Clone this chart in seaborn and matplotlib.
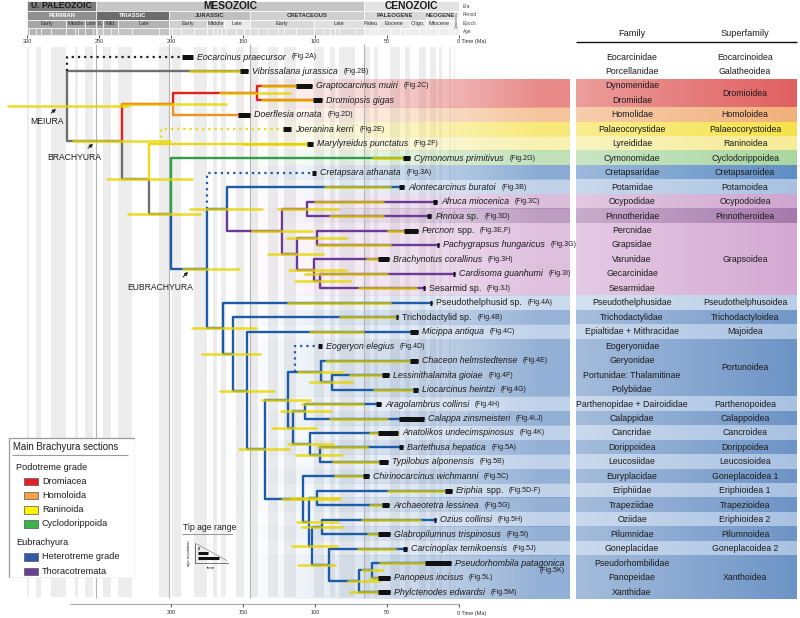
"""
Time-calibrated phylogeny of fossil and living crabs (Brachyura),
with geological timescale, node age bars, tip age ranges and a
family / superfamily table on the right.

Output : out.png (800 x 618 px)
"""

# ============================================================================
# Import Required Libraries
# ============================================================================

import numpy as np
import pandas as pd

import matplotlib
matplotlib.use("Agg")
import matplotlib.pyplot as plt
from matplotlib.patches import Rectangle
from matplotlib.colors import to_rgb

import seaborn as sns


# ============================================================================
# Data - tips (top to bottom)
# ============================================================================

tip_italic = [
    "Eocarcinus praecursor", "Vibrissalana jurassica", "Graptocarcinus muiri",
    "Dromiopsis gigas", "Doerflesia ornata", "Joeranina kerri",
    "Marylyreidus punctatus", "Cymonomus primitivus", "Cretapsara athanata",
    "Alontecarcinus buratoi", "Afruca miocenica", "Pinnixa", "Percnon",
    "Pachygrapsus hungaricus", "Brachynotus corallinus", "Cardisoma guanhumi",
    "", "", "", "Micippa antiqua", "Eogeryon elegius", "Chaceon helmstedtense",
    "Lessinithalamita gioiae", "Liocarcinus heintzi", "Aragolambrus collinsi",
    "Calappa zinsmeisteri", "Anatolikos undecimspinosus", "Bartethusa hepatica",
    "Typilobus alponensis", "Chirinocarcinus wichmanni", "Eriphia",
    "Archaeotetra lessinea", "Ozius collinsi", "Glabropilumnus trispinosus",
    "Carcinoplax temikoensis", "Pseudorhombila patagonica", "Panopeus incisus",
    "Phylctenodes edwardsi",
]

tip_roman = [
    "", "", "", "", "", "", "", "", "", "", "", " sp.", " spp.", "", "", "",
    "Sesarmid sp.", "Pseudothelphusid sp.", "Trichodactylid sp.", "", "", "",
    "", "", "", "", "", "", "", "", " spp.", "", "", "", "", "", "", "",
]

tip_figs = [
    "(Fig.2A)", "(Fig.2B)", "(Fig.2C)", "", "(Fig.2D)", "(Fig.2E)", "(Fig.2F)",
    "(Fig.2G)", "(Fig.3A)", "(Fig.3B)", "(Fig.3C)", "(Fig.3D)", "(Fig.3E,F)",
    "(Fig.3G)", "(Fig.3H)", "(Fig.3I)", "(Fig.3J)", "(Fig.4A)", "(Fig.4B)",
    "(Fig.4C)", "(Fig.4D)", "(Fig.4E)", "(Fig.4F)", "(Fig.4G)", "(Fig.4H)",
    "(Fig.4I,J)", "(Fig.4K)", "(Fig.5A)", "(Fig.5B)", "(Fig.5C)", "(Fig.5D-F)",
    "(Fig.5G)", "(Fig.5H)", "(Fig.5I)", "(Fig.5J)", "(Fig.5K)", "(Fig.5L)",
    "(Fig.5M)",
]

fig_on_next_line = ["Pseudorhombila patagonica"]

tip_parent = [
    None, "root", "dromi", "dromi", "podo", None, "core", "cyclo", None, "F",
    "TA", "TA", "TC", "TC", "TD", "TE", "TE", "G", "H", "I", None, "M", "Mb",
    "Mb", "O", "O", "P", "Pb", "Pb", "L", "R", "R", "S", "S", "U", "W", "W",
    "X",
]

tip_clade = (
    ["outgroup", "stem", "dromiacea", "dromiacea", "homoloida", "raninoida",
     "raninoida", "cyclodorippoida", "hetero", "hetero"]
    + ["thoraco"] * 7
    + ["hetero"] * 21
)

# tip age range (Ma)
tip_bar_old = [
    192.4, 152.1, 113.2, 101.4, 153.5, 122.2, 105.6, 38.9, 102.1, 41.7,
    18.1, 22.2, 38.2, 15.3, 56.3, 4.2, 25.0, 20.1, 43.8, 34.0,
    97.9, 34.0, 53.5, 31.9, 57.6, 41.7, 56.3, 41.7, 55.6, 66.7,
    9.7, 53.5, 17.4, 56.3, 38.9, 23.6, 56.3, 56.3,
]
tip_bar_young = [
    184.7, 146.5, 102.1, 95.1, 145.1, 116.7, 101.4, 34.0, 99.3, 38.2,
    15.3, 19.4, 28.5, 13.9, 48.6, 2.8, 23.6, 18.8, 42.4, 28.5,
    95.1, 28.5, 48.6, 28.5, 54.2, 24.3, 42.4, 38.9, 49.3, 62.5,
    4.9, 48.6, 16.0, 47.9, 36.1, 5.6, 47.9, 47.9,
]

# highlighted part of the terminal branches (Ma)
tip_ovl_old = [
    np.nan, 186.8, 136.8, 136.8, np.nan, np.nan, 150.0, 59.7, np.nan, 93.0,
    100.0, 89.6, 49.3, 98.6, 63.9, 107.0, 69.4, 118.8, 82.6, 103.5,
    np.nan, 92.4, 75.7, 59.0, 109.0, 89.6, 61.8, 97.9, 87.5, 86.1,
    49.3, 61.8, 67.4, 63.2, 70.1, 54.9, 61.8, 75.7,
]
tip_ovl_young = [
    np.nan, 152.1, 113.2, 101.4, np.nan, np.nan, 105.6, 38.9, np.nan, 47.9,
    52.8, 52.8, 38.2, 47.9, 56.3, 50.0, 29.9, 47.9, 43.1, 66.7,
    np.nan, 34.0, 53.5, 31.9, 66.7, 50.0, 42.4, 63.9, 55.6, 66.7,
    9.7, 53.5, 27.1, 56.3, 44.4, 23.6, 56.3, 56.3,
]

# uncertain placements: tip -> (attachment age, attached to)
dotted_attach = {
    0: (272.2, "t1"),
    5: (207.0, "t6"),
    8: (175.0, "F"),
    20: (113.9, "M"),
}


# ============================================================================
# Data - internal nodes
# ============================================================================

node_ids = [
    "root", "brach", "podo", "dromi", "core", "cyclo", "eubr", "F", "thor",
    "TA", "TB", "TC", "TD", "TE", "G", "H", "I", "J", "K", "M", "Mb", "N",
    "O", "P", "Pb", "L", "Q", "R", "V", "S", "U", "X", "W",
]
node_parent = [
    None, "root", "brach", "podo", "brach", "core", "cyclo", "eubr", "F",
    "thor", "thor", "TB", "TB", "TD", "eubr", "G", "H", "I", "J", "K", "M",
    "K", "N", "N", "P", "J", "L", "Q", "Q", "V", "V", "U", "X",
]
node_age = [
    272.2, 234.0, 198.6, 140.3, 215.3, 200.0, 175.0, 161.1, 122.9,
    105.6, 112.5, 98.6, 100.7, 96.5, 163.9, 156.9, 147.2, 134.7, 118.8,
    95.8, 88.2, 115.3, 106.9, 103.5, 96.5, 108.3, 104.2, 98.6, 102.1,
    95.1, 90.3, 69.4, 60.4,
]
node_hpd_old = [
    313.0, 268.0, 235.0, 166.0, 244.4, 229.9, 191.7, 186.8, 143.8,
    125.7, 132.6, 119.4, 118.0, 113.9, 185.4, 178.5, 166.0, 152.8, 136.8,
    111.8, 103.5, 129.9, 123.6, 118.8, 113.2, 122.9, 112.5, 117.0, 116.0,
    109.0, 111.8, 77.0, 67.4,
]
node_hpd_young = [
    230.0, 200.7, 162.0, 117.4, 185.4, 179.9, 152.8, 136.8, 102.1,
    84.0, 94.4, 77.8, 78.5, 75.7, 141.0, 138.2, 128.5, 118.0, 103.5,
    80.6, 74.3, 99.3, 88.9, 87.5, 81.3, 83.3, 84.0, 82.6, 85.0,
    81.3, 86.1, 54.9, 52.8,
]
node_clade = (
    ["stem", "stem", "dromiacea", "dromiacea", "stem", "stem", "hetero",
     "hetero"]
    + ["thoraco"] * 6
    + ["hetero"] * 19
)

clade_colors = {
    "outgroup": "#222222",
    "stem": "#6f6f6f",
    "dromiacea": "#e2231a",
    "homoloida": "#f0901e",
    "raninoida": "#e9da14",
    "cyclodorippoida": "#2f9e44",
    "hetero": "#1d5ba8",
    "thoraco": "#6a3b96",
}


# ============================================================================
# Data - family / superfamily table
# ============================================================================

families = [
    "Eocarcinidae", "Porcellanidae", "Dynomenidae", "Dromiidae", "Homolidae",
    "Palaeocorystidae", "Lyreididae", "Cymonomidae", "Cretapsaridae",
    "Potamidae", "Ocypodidae", "Pinnotheridae", "Percnidae", "Grapsidae",
    "Varunidae", "Gecarcinidae", "Sesarmidae", "Pseudothelphusidae",
    "Trichodactylidae", "Epialtidae + Mithracidae", "Eogeryonidae",
    "Geryonidae", "Portunidae: Thalamitinae", "Polybiidae",
    "Parthenopidae + Dairoididae", "Calappidae", "Cancridae", "Dorippoidea",
    "Leucosiidae", "Euryplacidae", "Eriphiidae", "Trapeziidae", "Oziidae",
    "Pilumnidae", "Goneplacidae", "Pseudorhombilidae", "Panopeidae",
    "Xanthidae",
]

superfamilies = [
    "Eocarcinoidea", "Galatheoidea", "Dromioidea", "Homoloidea",
    "Palaeocorystoidea", "Raninoidea", "Cyclodorippoidea", "Cretapsaroidea",
    "Potamoidea", "Ocypodoidea", "Pinnotheroidea", "Grapsoidea",
    "Pseudothelphusoidea", "Trichodactyloidea", "Majoidea", "Portunoidea",
    "Parthenopoidea", "Calappoidea", "Cancroidea", "Dorippoidea",
    "Leucosioidea", "Goneplacoidea 1", "Eriphioidea 1", "Trapezioidea",
    "Eriphioidea 2", "Pilumnoidea", "Goneplacoidea 2", "Xanthoidea",
]
superfamily_nrows = [1, 1, 2, 1, 1, 1, 1, 1, 1, 1, 1, 5, 1, 1, 1, 4,
                     1, 1, 1, 1, 1, 1, 1, 1, 1, 1, 1, 3]
superfamily_colors = [
    None, None, "#e0605f", "#f2b07a", "#f5e24a", "#f6ec96", "#a9d6a0",
    "#5f8ec5", "#a9c2e2", "#cfa6d0", "#a679ad", "#d4a9d3", "#b9cee7",
    "#7197c8", "#a9c2e2", "#6d94c6", "#a9c2e2", "#6d94c6", "#a9c2e2",
    "#6d94c6", "#a9c2e2", "#6d94c6", "#a9c2e2", "#6d94c6", "#a9c2e2",
    "#6d94c6", "#a9c2e2", "#6d94c6",
]


# ============================================================================
# Data - geological timescale (Ma)
# ============================================================================

eras = ["U. PALEOZOIC", "MESOZOIC", "CENOZOIC"]
era_bounds = [300, 251.9, 66, 0]
era_colors = ["#7b7b7b", "#c6c6c6", "#e3e3e3"]
era_sizes = [6.2, 7.4, 7.4]

periods = ["PERMIAN", "TRIASSIC", "JURASSIC", "CRETACEOUS", "PALEOGENE",
           "NEOGENE", ""]
period_bounds = [300, 251.9, 201.4, 145, 66, 23.03, 2.58, 0]
period_colors = ["#8f8f8f", "#6c6c6c", "#bfbfbf", "#cfcfcf", "#d8d8d8",
                 "#e2e2e2", "#f0f0f0"]
period_text = ["white", "white", "#333333", "#333333", "#333333",
               "#333333", "#333333"]

epochs = ["Early", "Middle", "Late", "E.", "Mid.", "Late", "Early", "Middle",
          "Late", "Early", "Late", "Paleo.", "Eocene", "Oligo.", "Miocene",
          "", ""]
epoch_bounds = [300, 273.01, 259.51, 251.9, 247.2, 237, 201.4, 174.7, 163.5,
                145, 100.5, 66, 56, 33.9, 23.03, 5.333, 2.58, 0]
epoch_colors = ["#a5a5a5", "#a5a5a5", "#a5a5a5", "#9c9c9c", "#9c9c9c",
                "#b3b3b3", "#d0d0d0", "#d6d6d6", "#eaeaea", "#d9d9d9",
                "#e0e0e0", "#e4e4e4", "#e4e4e4", "#eaeaea", "#ededed",
                "#f2f2f2", "#f6f6f6"]

stage_bounds = [
    300, 298.9, 293.5, 290.1, 283.5, 273.01, 266.9, 264.28, 259.51, 254.14,
    251.9, 251.2, 247.2, 242, 237, 227, 208.5, 201.4, 199.5, 192.9, 184.2,
    174.7, 170.9, 168.2, 165.3, 161.5, 154.8, 149.2, 145, 139.8, 132.6,
    125.77, 121.4, 113, 100.5, 93.9, 89.8, 86.3, 83.6, 72.1, 66, 61.6, 59.2,
    56, 47.8, 41.2, 37.7, 33.9, 27.82, 23.03, 20.44, 15.97, 13.82, 11.63,
    7.246, 5.333, 3.6, 2.58, 0,
]

time_ticks = [300, 250, 200, 150, 100, 50]
bottom_ticks = [200, 150, 100, 50]

legend_groups = ["Podotreme grade", "Eubrachyura"]
legend_labels = [["Dromiacea", "Homoloida", "Raninoida", "Cyclodorippoida"],
                 ["Heterotreme grade", "Thoracotremata"]]
legend_colors = [["#e31e24", "#f6a24a", "#fff200", "#3bb54a"],
                 ["#2e5aa8", "#6d3e97"]]


# ============================================================================
# Configure Visualization Settings
# ============================================================================

sns.set_theme(style="white")
plt.rcParams["font.family"] = ["Liberation Sans", "DejaVu Sans"]
plt.rcParams["text.color"] = "#1b1b1b"

W, H = 800, 618
fig = plt.figure(figsize=(8, 6.18), dpi=100)
fig.patch.set_facecolor("white")


def t_at(x):
    """pixel column -> Ma on the tree axis"""
    return (459 - x) / 1.44


def r_at(y):
    """pixel row -> tip row index"""
    return (y - 57) / 14.46


ax = fig.add_axes([0, 0, 570 / W, 1])
tab = fig.add_axes([570 / W, 0, 230 / W, 1])

YLIM = (r_at(618), r_at(0))


# ============================================================================
# Tree layout
# ============================================================================

children = {n: [] for n in node_ids}
for i, p in enumerate(tip_parent):
    if p is not None:
        children[p].append(f"t{i}")
for n, p in zip(node_ids, node_parent):
    if p is not None:
        children[p].append(n)

ypos = {f"t{i}": float(i) for i in range(len(tip_italic))}


def get_y(n):
    if n not in ypos:
        ys = [get_y(c) for c in children[n]]
        ypos[n] = (min(ys) + max(ys)) / 2
    return ypos[n]


for n in node_ids:
    get_y(n)

age = dict(zip(node_ids, node_age))
for i in range(len(tip_italic)):
    age[f"t{i}"] = tip_bar_young[i]
clade = dict(zip(node_ids, node_clade))
for i in range(len(tip_italic)):
    clade[f"t{i}"] = tip_clade[i]

# branches as L shapes
seg = []
k = 0
for p in node_ids:
    for c in children[p]:
        for a, r in [(age[p], ypos[p]), (age[p], ypos[c]), (age[c], ypos[c])]:
            seg.append({"seg": k, "clade": clade[c], "age": a, "row": r})
        k += 1
branch_df = pd.DataFrame(seg)

node_bar_df = pd.DataFrame(
    [{"seg": j, "age": a, "row": ypos[n]}
     for j, n in enumerate(node_ids)
     for a in (node_hpd_old[j], node_hpd_young[j])]
)

ovl_df = pd.DataFrame(
    [{"seg": i, "age": a, "row": float(i)}
     for i in range(len(tip_italic)) if not np.isnan(tip_ovl_old[i])
     for a in (tip_ovl_old[i], tip_ovl_young[i])]
)

tipbar_df = pd.DataFrame(
    [{"seg": i, "age": a, "row": float(i)}
     for i in range(len(tip_italic))
     for a in (tip_bar_old[i], tip_bar_young[i])]
)


# ============================================================================
# Background: stage stripes, period lines, coloured bands
# ============================================================================

y_lo, y_hi = 1 - 597 / H, 1 - 47 / H
for j in range(0, len(stage_bounds) - 1, 2):
    ax.axvspan(stage_bounds[j], stage_bounds[j + 1], ymin=y_lo, ymax=y_hi,
               color="#ededed", lw=0, zorder=0)

for b in [251.9, 201.4, 145, 66]:
    ax.vlines(b, r_at(44), r_at(598), color="#b4b4b4", lw=0.8, zorder=1.5)

xs = np.linspace(0, 1, 200)
ramp = np.clip((xs * 370 - 20) / 320, 0, 1) ** 1.4 * 0.74
start = 0
for name, nr, col in zip(superfamilies, superfamily_nrows, superfamily_colors):
    if col is not None:
        rgb = np.array(to_rgb(col))
        img = np.zeros((1, len(xs), 4))
        img[0, :, :3] = rgb
        img[0, :, 3] = ramp
        ax.imshow(img, extent=(t_at(200), t_at(570), start + nr - 0.5,
                               start - 0.5),
                  aspect="auto", interpolation="bilinear", zorder=1)
        light = rgb * 0.62 + 0.38
        grad = np.zeros((1, 64, 3))
        for c in range(3):
            grad[0, :, c] = np.linspace(light[c], rgb[c], 64)
        tab.imshow(grad, extent=(576, 797, start + nr - 0.5, start - 0.5),
                   aspect="auto", interpolation="bilinear", zorder=1)
    tab.text(745, start + (nr - 1) / 2, name, ha="center", va="center",
             fontsize=6.3, zorder=3)
    start += nr


# ============================================================================
# Tree
# ============================================================================

sns.lineplot(data=branch_df, x="age", y="row", hue="clade", units="seg",
             estimator=None, sort=False, palette=clade_colors, lw=1.7,
             legend=False, ax=ax, zorder=3)

for i, (a_att, target) in dotted_attach.items():
    col = clade_colors[tip_clade[i]]
    ax.plot([a_att, a_att, tip_bar_old[i]], [ypos[target], i, i], color=col,
            lw=1.6, linestyle=(0, (1, 1.8)), zorder=3)

sns.lineplot(data=ovl_df, x="age", y="row", units="seg", estimator=None,
             sort=False, color="#e4d000", alpha=0.75, lw=2.0, legend=False,
             ax=ax, zorder=4)
sns.lineplot(data=node_bar_df, x="age", y="row", units="seg", estimator=None,
             sort=False, color="#e8d500", alpha=0.8, lw=1.9, legend=False,
             ax=ax, zorder=4)
sns.lineplot(data=tipbar_df, x="age", y="row", units="seg", estimator=None,
             sort=False, color="#111111", lw=3.6, legend=False, ax=ax,
             zorder=5, solid_capstyle="butt")

# tip labels
for i in range(len(tip_italic)):
    last = None
    if tip_italic[i]:
        last = ax.annotate(tip_italic[i], xy=(tip_bar_young[i], i),
                           xytext=(3, 0), textcoords="offset points",
                           ha="left", va="center", fontsize=6.4,
                           fontstyle="italic", zorder=7)
    if tip_roman[i]:
        if last is None:
            last = ax.annotate(tip_roman[i], xy=(tip_bar_young[i], i),
                               xytext=(3, 0), textcoords="offset points",
                               ha="left", va="center", fontsize=6.4, zorder=7)
        else:
            last = ax.annotate(tip_roman[i], xy=(1, 0.5), xycoords=last,
                               xytext=(0, 0), textcoords="offset points",
                               ha="left", va="center", fontsize=6.4, zorder=7)
    if tip_figs[i]:
        if tip_italic[i] in fig_on_next_line:
            ax.annotate(tip_figs[i], xy=(1, 0), xycoords=last,
                        xytext=(0, 0.5), textcoords="offset points",
                        ha="right", va="top", fontsize=5.0, zorder=7)
        else:
            ax.annotate(tip_figs[i], xy=(1, 0.5), xycoords=last,
                        xytext=(4, 0), textcoords="offset points",
                        ha="left", va="center", fontsize=5.0, zorder=7)

# clade names
for txt, tx, ty, head, tail in [
    ("MEIURA", 47, 122, (58, 107), (49, 115)),
    ("BRACHYURA", 74, 157, (95, 142), (86, 150)),
    ("EUBRACHYURA", 160, 287, (190, 270), (181, 279)),
]:
    ax.text(t_at(tx), r_at(ty), txt, ha="center", va="center", fontsize=6.2,
            zorder=7)
    ax.annotate("", xy=(t_at(head[0]), r_at(head[1])),
                xytext=(t_at(tail[0]), r_at(tail[1])),
                arrowprops=dict(arrowstyle="-|>", color="#222222", lw=0.7,
                                mutation_scale=5), zorder=7)


# ============================================================================
# Geological timescale header
# ============================================================================

def header_row(bounds, names, colors, y0, y1, sizes, weight="normal",
               tcolors=None):
    for j, nm in enumerate(names):
        a0, a1 = bounds[j], bounds[j + 1]
        ax.add_patch(Rectangle((a0, r_at(y0)), a1 - a0, r_at(y1) - r_at(y0),
                               facecolor=colors[j], edgecolor="white",
                               lw=0.5, zorder=2))
        if nm:
            tc = tcolors[j] if tcolors else "#333333"
            sz = sizes[j] if isinstance(sizes, list) else sizes
            ax.text((a0 + a1) / 2, r_at((y0 + y1) / 2), nm, ha="center",
                    va="center", fontsize=sz, fontweight=weight, color=tc,
                    zorder=3)


header_row(era_bounds, eras, era_colors, 0.5, 11, era_sizes, "bold",
           ["#1b1b1b"] * 3)
header_row(period_bounds, periods, period_colors, 11, 19.5, 4.2, "bold",
           period_text)
header_row(epoch_bounds, epochs, epoch_colors, 19.5, 28, 4.0)

for j in range(len(stage_bounds) - 1):
    a0, a1 = stage_bounds[j], stage_bounds[j + 1]
    mid = (a0 + a1) / 2
    shade = ("#b4b4b4" if mid > 251.9 else "#c4c4c4" if mid > 201.4
             else "#dcdcdc" if mid > 66 else "#ececec")
    ax.add_patch(Rectangle((a0, r_at(28)), a1 - a0, r_at(34.5) - r_at(28),
                           facecolor=shade, edgecolor="white", lw=0.4,
                           zorder=2))

ax.text(1.3, r_at(20), "Quaternary", rotation=90, ha="center", va="center",
        fontsize=2.4, color="#444444", zorder=3)

for lab, yy in [("Era", 6), ("Period", 15), ("Epoch", 24), ("Age", 31)]:
    ax.text(t_at(463), r_at(yy), lab, ha="left", va="center", fontsize=3.4,
            color="#444444")

# top time axis
for tk in time_ticks:
    ax.vlines(tk, r_at(34.5), r_at(37.5), color="#333333", lw=0.6)
    ax.text(tk, r_at(41.5), str(tk), ha="center", va="center", fontsize=4.0,
            color="#333333")
ax.vlines(0, r_at(34.5), r_at(37.5), color="#333333", lw=0.6)
ax.text(t_at(457), r_at(41.5), "0 Time (Ma)", ha="left", va="center",
        fontsize=4.0, color="#333333")

# bottom time axis
ax.hlines(r_at(604), t_at(70), 0, color="#a8a8a8", lw=0.8)
for tk in bottom_ticks + [0]:
    ax.vlines(tk, r_at(604), r_at(607), color="#333333", lw=0.6)
for tk in bottom_ticks:
    ax.text(tk, r_at(613), str(tk), ha="center", va="center", fontsize=4.0,
            color="#333333")
ax.text(t_at(457), r_at(613), "0 Time (Ma)", ha="left", va="center",
        fontsize=4.0, color="#333333")

ax.set_xlim(t_at(0), t_at(570))
ax.set_ylim(*YLIM)
ax.axis("off")


# ============================================================================
# Family / superfamily table
# ============================================================================

for i, fam in enumerate(families):
    tab.text(632, i, fam, ha="center", va="center", fontsize=6.3, zorder=3)

tab.text(632, r_at(33), "Family", ha="center", va="center", fontsize=6.6)
tab.text(745, r_at(33), "Superfamily", ha="center", va="center",
         fontsize=6.6)
tab.hlines(r_at(42), 576, 797, color="#111111", lw=1.0)

tab.set_xlim(570, 800)
tab.set_ylim(*YLIM)
tab.axis("off")


# ============================================================================
# Legend box
# ============================================================================

lg = fig.add_axes([8 / W, 1 - 578 / H, 127 / W, 141 / H])
lg.set_xlim(0, 127)
lg.set_ylim(141, 0)
lg.axis("off")
lg.add_patch(Rectangle((0.5, 0.5), 126, 140, facecolor="white",
                       edgecolor="#9a9a9a", lw=0.9, zorder=0))
lg.text(5, 10, "Main Brachyura sections", ha="left", va="center",
        fontsize=6.9)
lg.hlines(18, 4, 120, color="#9a9a9a", lw=0.8)

yy = 30
for grp, labs, cols in zip(legend_groups, legend_labels, legend_colors):
    lg.text(8, yy, grp, ha="left", va="center", fontsize=6.6)
    yy += 14
    for lab, col in zip(labs, cols):
        lg.add_patch(Rectangle((16, yy - 3.5), 14, 7.5, facecolor=col,
                               edgecolor="#555555", lw=0.5))
        lg.text(34, yy, lab, ha="left", va="center", fontsize=6.6)
        yy += 14.3
    yy += 4.5


# ============================================================================
# Tip age range inset
# ============================================================================

fig.text(183 / W, 1 - 528 / H, "Tip age range", ha="left", va="center",
         fontsize=6.2)
fig.add_artist(plt.Line2D([182 / W, 232 / W], [1 - 534 / H, 1 - 534 / H],
                          color="#9a9a9a", lw=0.8))

ins = fig.add_axes([195 / W, 1 - 563 / H, 33 / W, 20 / H])
ins.set_xlim(0, 10)
ins.set_ylim(0, 4)
for s in ["top", "right"]:
    ins.spines[s].set_visible(False)
for s in ["left", "bottom"]:
    ins.spines[s].set_linewidth(0.5)
    ins.spines[s].set_color("#444444")
ins.set_xticks([])
ins.set_yticks([])
ins.patch.set_alpha(0)
ins.plot([0.6, 9.6], [3.8, 0.5], color="#888888", lw=0.5)
for yb, ln in [(3.0, 0.4), (2.0, 3.0), (1.0, 6.6)]:
    ins.plot([0.8, 0.8 + ln], [yb, yb], color="#111111", lw=2.2,
             solid_capstyle="butt")
fig.text(189 / W, 1 - 553 / H, "age resolution", rotation=90, ha="center",
         va="center", fontsize=3.0)
fig.text(211 / W, 1 - 568 / H, "time", ha="center", va="center",
         fontsize=3.2)


# ============================================================================
# Save
# ============================================================================

fig.savefig("out.png", dpi=100, facecolor="white")
print("Tree figure saved to out.png")
